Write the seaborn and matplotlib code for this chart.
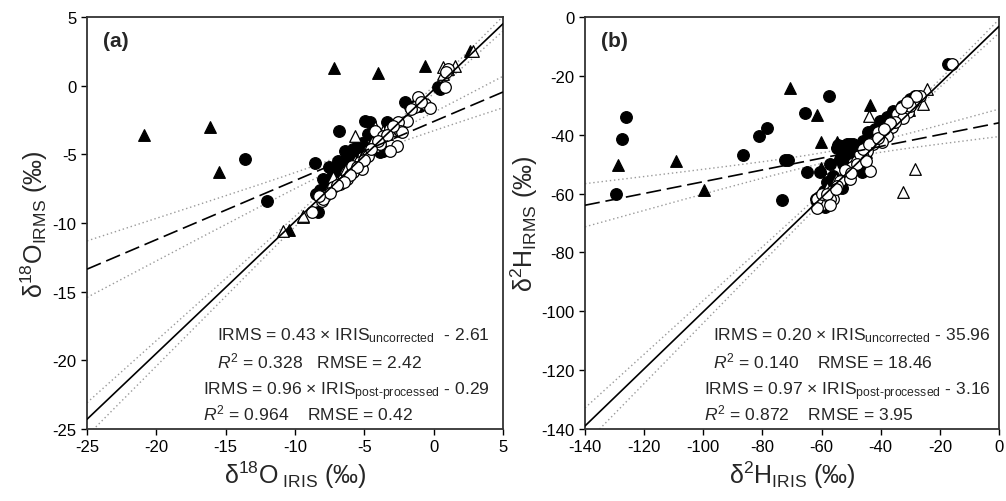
import matplotlib
matplotlib.use('Agg')
import matplotlib.pyplot as plt
import numpy as np
import pandas as pd
import seaborn as sns

sns.set_theme(style='ticks')
plt.rcParams['font.family'] = ['Liberation Sans', 'DejaVu Sans']
plt.rcParams['mathtext.fontset'] = 'custom'
plt.rcParams['mathtext.rm'] = 'Liberation Sans'
plt.rcParams['mathtext.it'] = 'Liberation Sans:italic'
plt.rcParams['mathtext.bf'] = 'Liberation Sans:bold'
plt.rcParams['axes.unicode_minus'] = False

# ---- panel (a): d18O ----
a_unc1_x = [-13.6, -12.05, -8.56, -6.81, -4.96, -4.6, -3.35, -4.72, -2.07, -1.71, -0.99, 0.33,
            0.45, -7.53, -6.4, -5.92, -6.28, -6.64, -7.0, -7.24, -3.76, -8.51, -8.32, -5.44,
            -7.24, -3.64, -5.32, -7.72, -8.2, -5.8, -6.1, -5.2, -6.9, -7.8, -8.0, -3.9, -4.3,
            -1.3]
a_unc1_y = [-5.34, -8.43, -5.63, -3.28, -2.55, -2.67, -2.62, -3.52, -1.21, -1.58, -1.51, -0.12,
            -0.24, -5.95, -4.74, -4.98, -5.34, -5.71, -6.07, -6.43, -4.74, -7.89, -9.22, -4.37,
            -7.16, -4.74, -4.37, -6.92, -7.6, -4.6, -5.0, -4.2, -5.5, -7.4, -6.8, -4.8, -3.8,
            -1.4]
a_unc2_x = [-20.9, -16.1, -15.5, -7.2, -4.0, -0.6, 2.6, -10.4]
a_unc2_y = [-3.6, -3.0, -6.3, 1.3, 0.9, 1.4, 2.55, -10.5]
a_post1_x = [-1.11, -0.63, -1.35, -1.95, -2.55, -3.15, -2.43, -2.67, -3.15, -3.88, -5.2, -5.8,
             -6.28, -6.76, -7.24, -7.84, -8.08, -8.8, -4.24, -3.64, -4.72, -5.32, -5.9, 0.81,
             1.05, -0.27, -2.31, -7.96, -2.9, -3.4, -4.0, -4.5, -5.0, -5.5, -6.0, -6.5, -7.0,
             -7.5, -8.3, -1.6, -0.9, 0.9]
a_post1_y = [-0.85, -1.34, -1.58, -2.55, -2.67, -3.16, -3.28, -4.37, -4.74, -4.25, -6.07, -6.31,
             -6.8, -7.16, -7.4, -8.01, -8.38, -9.22, -3.28, -3.64, -5.1, -5.59, -5.83, -0.12,
             1.21, -1.65, -3.35, -8.25, -2.9, -3.6, -4.0, -4.6, -5.4, -5.9, -6.5, -7.0, -7.2,
             -7.8, -8.0, -1.7, -1.2, 1.0]
a_post2_x = [-5.68, -4.24, -4.0, -4.47, -4.96, -5.2, -5.68, -6.04, -6.52, -6.76, -7.24, -4.6,
             -9.4, -3.64, 2.85, 1.53, 0.69, 0.69, -10.9, -9.4, -3.0, -3.4, -4.3, -5.0, -5.5,
             -6.3, -7.0, -7.6, 1.0]
a_post2_y = [-3.64, -3.03, -3.76, -4.13, -4.74, -5.22, -5.47, -5.95, -6.31, -6.8, -6.68, -4.61,
             -9.59, -3.28, 2.55, 1.45, 1.33, 0.85, -10.56, -9.47, -3.2, -3.5, -4.4, -5.0, -5.8,
             -6.1, -7.0, -7.5, 1.2]

# ---- panel (b): d2H ----
b_unc1_x = [-129.6, -127.6, -126.2, -86.5, -81.05, -78.6, -73.5, -72.4, -71.3, -65.6, -64.8,
            -57.5, -54.9, -52.6, -50.4, -44.2, -40.2, -32.9, -28.4, -17.1, -58.8, -61.0, -61.5,
            -46.4, -52.8, -54.3, -51.5, -49.3, -53.0, -42.5, -60.5, -57.2, -47.0, -53.8, -49.8,
            -58.0, -56.0, -55.0, -52.0, -48.0, -46.0, -42.0, -38.0, -36.0, -30.0, -59.0, -62.0,
            -53.0]
b_unc1_y = [-60.1, -41.5, -33.9, -46.9, -40.5, -37.6, -62.1, -48.6, -48.6, -32.6, -52.6,
            -26.7, -44.5, -43.7, -43.2, -39.2, -35.2, -30.1, -26.9, -16.0, -64.7, -61.0, -63.0,
            -52.8, -50.0, -43.5, -43.3, -43.0, -45.5, -38.6, -52.8, -50.0, -51.6, -48.2, -46.0,
            -56.0, -54.0, -57.0, -47.0, -44.0, -42.0, -38.0, -34.0, -32.0, -28.0, -59.0, -62.0,
            -58.0]
b_unc2_x = [-128.7, -109.2, -99.8, -70.7, -61.6, -60.3, -60.3, -54.9, -43.6]
b_unc2_y = [-50.2, -49.0, -58.8, -24.2, -33.2, -42.6, -51.2, -42.6, -29.9]
b_post1_x = [-26.7, -29.0, -30.7, -34.6, -32.4, -36.3, -38.0, -40.8, -39.7, -42.5, -44.7,
             -45.9, -43.6, -48.1, -49.8, -52.1, -53.8, -54.9, -56.6, -59.4, -56.0, -59.4,
             -50.4, -47.0, -35.2, -30.1, -16.0, -61.6, -61.6, -60.0, -57.1, -58.0, -55.0,
             -52.0, -48.0, -46.0, -44.0, -41.0, -37.0, -33.0, -28.0, -31.0, -39.0, -45.0,
             -50.0, -57.0]
b_post1_y = [-26.7, -28.8, -32.4, -33.0, -34.4, -37.5, -40.3, -39.2, -42.6, -43.2, -45.4,
             -47.7, -52.2, -48.8, -51.1, -53.9, -55.6, -57.3, -59.0, -60.7, -61.8, -63.5,
             -55.0, -46.6, -35.8, -30.1, -16.0, -61.8, -65.0, -60.1, -61.8, -60.0, -58.5,
             -52.0, -50.0, -45.0, -43.0, -41.0, -36.0, -31.0, -27.0, -29.0, -38.0, -49.0,
             -53.0, -64.0]
b_post2_x = [-43.9, -28.4, -32.6, -24.4, -25.6, -30.5, -38.0, -50.0, -45.0, -40.0, -35.0,
             -55.0, -58.0]
b_post2_y = [-33.7, -51.6, -59.6, -24.5, -29.6, -31.5, -37.5, -50.5, -46.0, -39.0, -34.0,
             -55.0, -58.0]

# regression lines: slope, intercept
a_unc_fit = [0.43, -2.61]
a_post_fit = [0.96, -0.29]
b_unc_fit = [0.20, -35.96]
b_post_fit = [0.97, -3.16]
# confidence band shape: centre x, half width at centre, growth
a_unc_band = [-5.5, 0.35, 0.104]
a_post_band = [-4.0, 0.15, 0.057]
b_unc_band = [-53.0, 1.7, 0.082]
b_post_band = [-37.0, 0.8, 0.059]

a_text = [r'IRMS = 0.43 × IRIS$_{\mathrm{uncorrected}}$  - 2.61',
          r'$R^2$ = 0.328   RMSE = 2.42',
          r'IRMS = 0.96 × IRIS$_{\mathrm{post\text{-}processed}}$ - 0.29',
          r'$R^2$ = 0.964    RMSE = 0.42']
b_text = [r'IRMS = 0.20 × IRIS$_{\mathrm{uncorrected}}$ - 35.96',
          r'$R^2$ = 0.140    RMSE = 18.46',
          r'IRMS = 0.97 × IRIS$_{\mathrm{post\text{-}processed}}$ - 3.16',
          r'$R^2$ = 0.872    RMSE = 3.95']


def groups_frame(u1x, u1y, u2x, u2y, p1x, p1y, p2x, p2y):
    parts = []
    for name, xs, ys in [('unc1', u1x, u1y), ('unc2', u2x, u2y),
                         ('post1', p1x, p1y), ('post2', p2x, p2y)]:
        parts.append(pd.DataFrame({'x': xs, 'y': ys, 'group': name}))
    return pd.concat(parts, ignore_index=True)


def draw_panel(ax, df, unc_fit, post_fit, unc_band, post_band, lim, step, texts, text_pos, tag):
    styles = {'unc1': ('o', 'black', 'black'), 'unc2': ('^', 'black', 'black'),
              'post1': ('o', 'white', 'black'), 'post2': ('^', 'white', 'black')}
    for g in ['unc1', 'unc2', 'post2', 'post1']:
        m, fc, ec = styles[g]
        sub = df[df.group == g]
        sns.scatterplot(data=sub, x='x', y='y', marker=m, color=fc, edgecolor=ec,
                        linewidth=0.9, s=70, ax=ax, zorder=3, legend=False)
    xs = np.linspace(lim[0], lim[1], 200)
    for fit, band, ls in [(unc_fit, unc_band, (0, (9, 3.5))), (post_fit, post_band, '-')]:
        yhat = fit[0] * xs + fit[1]
        half = np.sqrt(band[1] ** 2 + (band[2] * (xs - band[0])) ** 2)
        ax.plot(xs, yhat, color='black', lw=1.2, linestyle=ls, zorder=4)
        ax.plot(xs, yhat + half, color='#9a9a9a', lw=1.0, linestyle=(0, (1, 2)), zorder=2)
        ax.plot(xs, yhat - half, color='#9a9a9a', lw=1.0, linestyle=(0, (1, 2)), zorder=2)
    ax.set_xlim(lim)
    ax.set_ylim(lim)
    ticks = np.arange(lim[0], lim[1] + step / 2, step)
    ax.set_xticks(ticks)
    ax.set_yticks(ticks)
    ax.tick_params(direction='out', length=4, width=1, labelsize=12, colors='black')
    for sp in ax.spines.values():
        sp.set_color('#333333')
        sp.set_linewidth(1.3)
        sp.set_visible(True)
    for t, (tx, ty) in zip(texts, text_pos):
        ax.text(tx, ty, t, fontsize=12.6, ha='left', va='baseline', zorder=5)
    ax.text(0.038, 0.967, tag, transform=ax.transAxes, fontsize=15,
            fontweight='bold', ha='left', va='top')


fig = plt.figure(figsize=(10.06, 5.02), dpi=100)
fig.patch.set_facecolor('white')
ax1 = fig.add_axes([0.0865, 0.1434, 0.4135, 0.8207])
ax2 = fig.add_axes([0.5815, 0.1434, 0.4115, 0.8207])

df_a = groups_frame(a_unc1_x, a_unc1_y, a_unc2_x, a_unc2_y, a_post1_x, a_post1_y, a_post2_x, a_post2_y)
df_b = groups_frame(b_unc1_x, b_unc1_y, b_unc2_x, b_unc2_y, b_post1_x, b_post1_y, b_post2_x, b_post2_y)

draw_panel(ax1, df_a, a_unc_fit, a_post_fit, a_unc_band, a_post_band, (-25, 5), 5,
           a_text, [(-15.65, -18.5), (-15.65, -20.5), (-16.6, -22.45), (-16.6, -24.3)], '(a)')
draw_panel(ax2, df_b, b_unc_fit, b_post_fit, b_unc_band, b_post_band, (-140, 0), 20,
           b_text, [(-96.8, -109.6), (-96.8, -119.0), (-99.8, -128.1), (-99.8, -136.6)], '(b)')

ax1.set_xlabel('δ$^{18}$O$_{\\ \\mathrm{IRIS}}$ (‰)', fontsize=18, labelpad=3)
ax1.set_ylabel('δ$^{18}$O$_{\\mathrm{IRMS}}$ (‰)', fontsize=18, labelpad=2)
ax2.set_xlabel('δ$^{2}$H$_{\\mathrm{IRIS}}$ (‰)', fontsize=18, labelpad=3)
ax2.set_ylabel('δ$^{2}$H$_{\\mathrm{IRMS}}$ (‰)', fontsize=18, labelpad=1)

fig.savefig('out.png', dpi=100, facecolor='white')
